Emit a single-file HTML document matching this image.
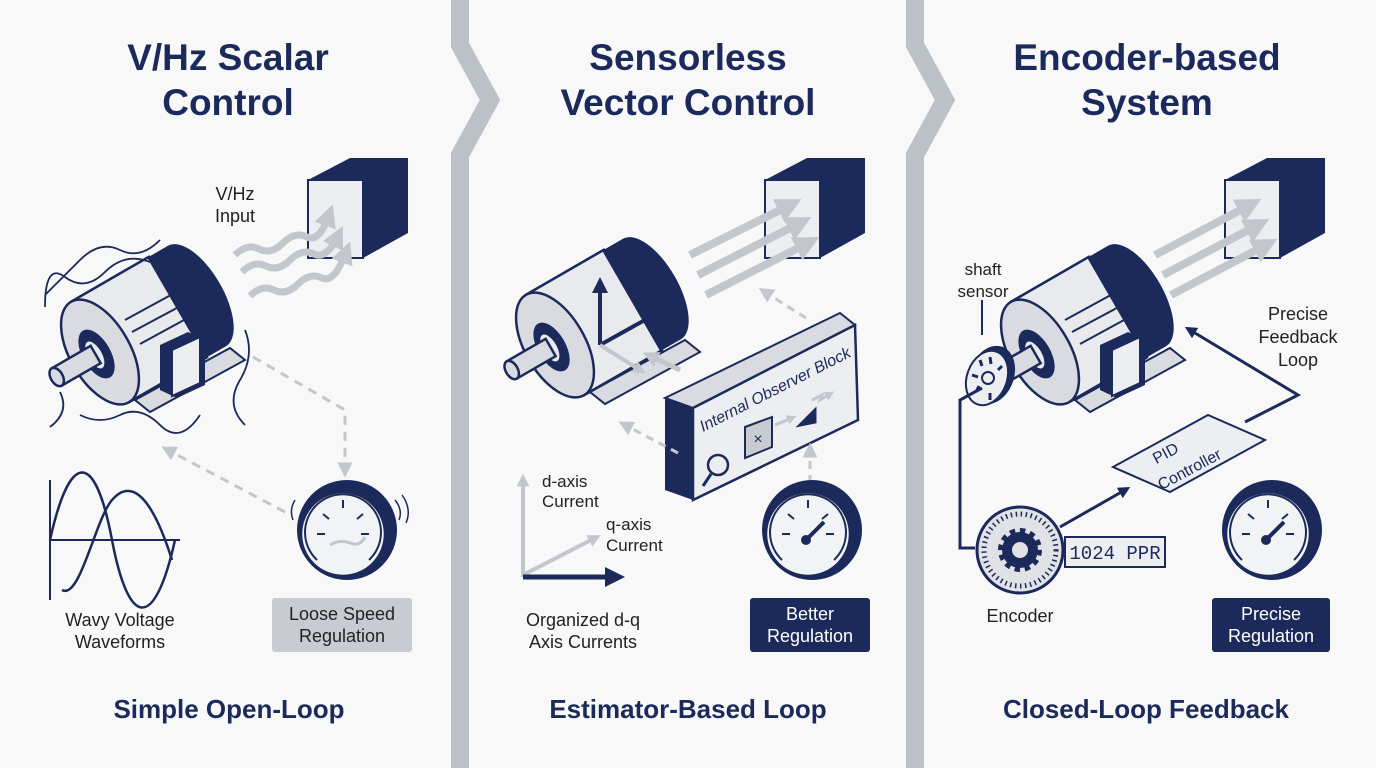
<!DOCTYPE html>
<html><head><meta charset="utf-8"><style>
html,body{margin:0;padding:0;background:#f8f8f9;}
svg{display:block;font-family:"Liberation Sans",sans-serif;}
</style></head><body>
<svg width="1376" height="768" viewBox="0 0 1376 768" xmlns="http://www.w3.org/2000/svg">
<defs>
  <marker id="ag" viewBox="0 0 10 10" refX="5" refY="5" markerWidth="3.2" markerHeight="3.2" orient="auto"><path d="M0,0L10,5L0,10z" fill="#c3c6cc"/></marker>
  <marker id="agd" viewBox="0 0 10 10" refX="5" refY="5" markerWidth="5" markerHeight="5" orient="auto"><path d="M0,0L10,5L0,10z" fill="#c3c6cc"/></marker>
  <marker id="an" viewBox="0 0 10 10" refX="5" refY="5" markerWidth="4" markerHeight="4" orient="auto"><path d="M0,0L10,5L0,10z" fill="#1b2a5a"/></marker>
  <g id="motor">
    <ellipse cx="112" cy="0" rx="26" ry="58" fill="#1b2a5a"/>
    <rect x="90" y="-58" width="22" height="116" fill="#1b2a5a"/>
    <rect x="0" y="-58" width="90" height="116" fill="#e9eaee" stroke="#1b2a5a" stroke-width="2.5"/>
    <ellipse cx="90" cy="0" rx="26" ry="58" fill="#1b2a5a"/>
    <rect x="0" y="-58" width="88" height="116" fill="#e9eaee"/>
    <line x1="0" y1="-58" x2="90" y2="-58" stroke="#1b2a5a" stroke-width="2.5"/>
    <line x1="0" y1="58" x2="90" y2="58" stroke="#1b2a5a" stroke-width="2.5"/>
    <ellipse cx="0" cy="0" rx="30" ry="58" fill="#d9dbe0" stroke="#1b2a5a" stroke-width="2.5"/>
    <ellipse cx="-4" cy="0" rx="14" ry="27" fill="#1b2a5a"/>
    <ellipse cx="-6" cy="0" rx="8" ry="16" fill="#e9eaee" stroke="#1b2a5a" stroke-width="2"/>
    <rect x="-50" y="-10" width="45" height="20" fill="#d9dbe0" stroke="#1b2a5a" stroke-width="2.5"/>
    <ellipse cx="-50" cy="0" rx="6" ry="10" fill="#d9dbe0" stroke="#1b2a5a" stroke-width="2.5"/>
  </g>
  <g id="cube">
    <polygon points="0,22 42,0 100,0 100,75 55,100 0,100" fill="#1b2a5a"/>
    <polygon points="0,22 55,22 55,100 0,100" fill="#eceef1" stroke="#1b2a5a" stroke-width="2"/>
  </g>
  <g id="gauge">
    <circle cx="0" cy="0" r="50" fill="#1b2a5a"/>
    <circle cx="-4" cy="4" r="42" fill="#f2f3f5" stroke="#1b2a5a" stroke-width="2.5"/>
    <path d="M-30,30 A38,38 0 1 1 22,30" fill="none" stroke="#1b2a5a" stroke-width="2"/>
    <g stroke="#1b2a5a" stroke-width="2">
      <line x1="-4" y1="-30" x2="-4" y2="-22"/><line x1="-30" y1="4" x2="-22" y2="4"/>
      <line x1="22" y1="4" x2="14" y2="4"/><line x1="-24" y1="-16" x2="-18" y2="-11"/><line x1="16" y1="-16" x2="10" y2="-11"/>
    </g>
  </g>
</defs>

<polyline points="460,0 460,45 490,100 460,155 460,768" fill="none" stroke="#bcc0c7" stroke-width="18"/>
<polyline points="915,0 915,45 945,100 915,155 915,768" fill="none" stroke="#bcc0c7" stroke-width="18"/>

<g fill="#1b2a5a" font-weight="bold" font-size="37" text-anchor="middle">
  <text x="228" y="70">V/Hz Scalar</text><text x="228" y="115">Control</text>
  <text x="688" y="70">Sensorless</text><text x="688" y="115">Vector Control</text>
  <text x="1147" y="70">Encoder-based</text><text x="1147" y="115">System</text>
</g>
<g fill="#1b2a5a" font-weight="bold" font-size="26" text-anchor="middle">
  <text x="229" y="718">Simple Open-Loop</text>
  <text x="688" y="718">Estimator-Based Loop</text>
  <text x="1146" y="718">Closed-Loop Feedback</text>
</g>

<!-- PANEL 1 -->
<use href="#cube" x="308" y="158"/>
<text x="235" y="200" font-size="18" fill="#222" text-anchor="middle">V/Hz</text>
<text x="235" y="222" font-size="18" fill="#222" text-anchor="middle">Input</text>
<g fill="none" stroke="#c3c6cc" stroke-width="7" marker-end="url(#ag)">
  <path d="M235,255 q12,-12 24,-6 t24,-6 t24,-6 t22,-22"/>
  <path d="M242,272 q12,-12 24,-6 t24,-6 t24,-6 t24,-18"/>
  <path d="M250,296 q12,-12 24,-6 t24,-6 t24,-6 t24,-26"/>
</g>
<polygon points="135,400 230,348 245,360 150,412" fill="#d9dbe0" stroke="#1b2a5a" stroke-width="2"/>
<g transform="translate(100,352) rotate(-30)"><use href="#motor"/></g>
<polygon points="160,345 188,332 205,340 205,385 177,398 160,390" fill="#1b2a5a"/>
<polygon points="172,350 200,337 200,383 172,396" fill="#eceef1" stroke="#1b2a5a" stroke-width="2"/>
<g fill="none" stroke="#1b2a5a" stroke-width="1.8">
  <path d="M160,240 q-20,20 -40,10 t-40,10 t-35,35"/>
  <path d="M150,262 q-25,-10 -45,10 t-40,5 t-20,30"/>
  <path d="M80,415 q20,10 40,0 t40,10 t40,-10"/>
  <path d="M60,392 q10,20 -10,35"/>
  <path d="M245,330 q10,25 -5,50 t5,45"/>
</g>
<g stroke="#1b2a5a" stroke-width="2" fill="none">
  <line x1="125" y1="320" x2="180" y2="290"/><line x1="132" y1="332" x2="188" y2="302"/><line x1="140" y1="344" x2="195" y2="314"/>
</g>
<path d="M253,357 L345,410 L345,470" fill="none" stroke="#c3c6cc" stroke-width="3" stroke-dasharray="9,7" marker-end="url(#agd)"/>
<path d="M285,512 L168,450" fill="none" stroke="#c3c6cc" stroke-width="3" stroke-dasharray="9,7" marker-end="url(#agd)"/>
<line x1="50" y1="480" x2="50" y2="600" stroke="#1b2a5a" stroke-width="2"/>
<line x1="50" y1="540" x2="180" y2="540" stroke="#1b2a5a" stroke-width="2"/>
<path d="M50,540 C70,450 95,450 112,540 S155,630 175,540" fill="none" stroke="#1b2a5a" stroke-width="2.5"/>
<path d="M62,590 C80,600 95,520 112,500 S150,490 172,560" fill="none" stroke="#1b2a5a" stroke-width="2.5"/>
<text x="120" y="626" font-size="18" fill="#222" text-anchor="middle">Wavy Voltage</text>
<text x="120" y="648" font-size="18" fill="#222" text-anchor="middle">Waveforms</text>
<use href="#gauge" x="347" y="530"/>
<path d="M330,545 q10,-6 20,-2 t15,-6" stroke="#c3c6cc" stroke-width="3" fill="none"/>
<g stroke="#1b2a5a" stroke-width="1.5" fill="none"><path d="M395,500 q8,10 4,20"/><path d="M402,495 q10,14 4,28"/><path d="M295,500 q-6,10 -2,20"/></g>
<rect x="272" y="598" width="140" height="54" rx="3" fill="#c8cbd1"/>
<text x="342" y="620" font-size="18" fill="#222" text-anchor="middle">Loose Speed</text>
<text x="342" y="642" font-size="18" fill="#222" text-anchor="middle">Regulation</text>

<!-- PANEL 2 -->
<use href="#cube" x="765" y="158"/>
<g stroke="#c3c6cc" stroke-width="8" marker-end="url(#ag)">
  <line x1="690" y1="255" x2="790" y2="205"/><line x1="698" y1="275" x2="800" y2="223"/><line x1="706" y1="295" x2="808" y2="243"/>
</g>
<polygon points="590,392 685,340 700,352 605,404" fill="#d9dbe0" stroke="#1b2a5a" stroke-width="2"/>
<g transform="translate(555,345) rotate(-30)"><use href="#motor"/></g>
<path d="M600,345 L600,285" stroke="#1b2a5a" stroke-width="4" marker-end="url(#an)"/>
<path d="M600,345 L652,316" stroke="#1b2a5a" stroke-width="4" marker-end="url(#an)"/>
<path d="M600,345 L640,370" stroke="#c3c6cc" stroke-width="4" marker-end="url(#ag)"/>
<polygon points="665,398 840,313 855,325 693,408" fill="#d9dbe0" stroke="#1b2a5a" stroke-width="2"/>
<polygon points="665,398 693,408 693,500 665,490" fill="#1b2a5a"/>
<polygon points="693,408 855,325 858,420 693,500" fill="#eceef1" stroke="#1b2a5a" stroke-width="2.5"/>
<text font-size="16" font-style="italic" fill="#1b2a5a" transform="translate(703,432) rotate(-27)">Internal Observer Block</text>
<circle cx="718" cy="465" r="10" fill="none" stroke="#1b2a5a" stroke-width="2.5"/>
<line x1="711" y1="474" x2="703" y2="486" stroke="#1b2a5a" stroke-width="3"/>
<polygon points="745,427 772,417 772,447 745,458" fill="#c8cbd1" stroke="#1b2a5a" stroke-width="2"/>
<text x="758" y="444" font-size="16" fill="#1b2a5a" text-anchor="middle">×</text>
<polygon points="800,425 815,410 815,422" fill="#1b2a5a" stroke="#1b2a5a" stroke-width="3"/>
<path d="M775,425 L792,418" stroke="#c3c6cc" stroke-width="3" marker-end="url(#ag)"/>
<path d="M812,400 l10,-5 l-2,5 l10,-6" stroke="#c3c6cc" stroke-width="3" fill="none" marker-end="url(#ag)"/>
<path d="M680,370 L650,356" stroke="#c3c6cc" stroke-width="5" marker-end="url(#ag)"/>
<path d="M806,318 L765,292" stroke="#c3c6cc" stroke-width="3" stroke-dasharray="8,6" marker-end="url(#agd)"/>
<path d="M678,453 L625,425" stroke="#c3c6cc" stroke-width="3" stroke-dasharray="8,6" marker-end="url(#agd)"/>
<path d="M810,483 L810,450" stroke="#c3c6cc" stroke-width="3" stroke-dasharray="8,6" marker-end="url(#agd)"/>
<path d="M523,577 L523,480" stroke="#c3c6cc" stroke-width="4" marker-end="url(#ag)"/>
<path d="M523,575 L595,538" stroke="#c3c6cc" stroke-width="4" marker-end="url(#ag)"/>
<path d="M523,577 L615,577" stroke="#1b2a5a" stroke-width="5" marker-end="url(#an)"/>
<g font-size="17" fill="#222"><text x="542" y="487">d-axis</text><text x="542" y="507">Current</text>
<text x="606" y="530">q-axis</text><text x="606" y="551">Current</text></g>
<text x="583" y="626" font-size="18" fill="#222" text-anchor="middle">Organized d-q</text>
<text x="583" y="648" font-size="18" fill="#222" text-anchor="middle">Axis Currents</text>
<use href="#gauge" x="812" y="530"/>
<line x1="806" y1="540" x2="824" y2="522" stroke="#1b2a5a" stroke-width="4"/>
<circle cx="806" cy="540" r="5" fill="#1b2a5a"/>
<rect x="750" y="598" width="120" height="54" rx="3" fill="#1b2a5a"/>
<text x="810" y="620" font-size="18" fill="#fff" text-anchor="middle">Better</text>
<text x="810" y="642" font-size="18" fill="#fff" text-anchor="middle">Regulation</text>

<!-- PANEL 3 -->
<use href="#cube" x="1225" y="158"/>
<g stroke="#c3c6cc" stroke-width="8" marker-end="url(#ag)">
  <line x1="1155" y1="255" x2="1250" y2="205"/><line x1="1163" y1="275" x2="1258" y2="225"/><line x1="1171" y1="295" x2="1266" y2="245"/>
</g>
<polygon points="1075,400 1170,348 1185,360 1090,412" fill="#d9dbe0" stroke="#1b2a5a" stroke-width="2"/>
<g transform="translate(1040,352) rotate(-30)"><use href="#motor"/></g>
<polygon points="1100,345 1128,332 1145,340 1145,385 1117,398 1100,390" fill="#1b2a5a"/>
<polygon points="1112,350 1140,337 1140,383 1112,396" fill="#eceef1" stroke="#1b2a5a" stroke-width="2"/>
<g stroke="#1b2a5a" stroke-width="2" fill="none">
  <line x1="1065" y1="320" x2="1120" y2="290"/><line x1="1072" y1="332" x2="1128" y2="302"/><line x1="1080" y1="344" x2="1135" y2="314"/>
</g>
<ellipse cx="992" cy="375" rx="22" ry="30" transform="rotate(20 992 375)" fill="#1b2a5a"/>
<ellipse cx="987" cy="378" rx="20" ry="28" transform="rotate(20 987 378)" fill="#eceef1" stroke="#1b2a5a" stroke-width="2"/>
<circle cx="988" cy="378" r="6" fill="none" stroke="#1b2a5a" stroke-width="2"/>
<g stroke="#1b2a5a" stroke-width="3"><line x1="980" y1="360" x2="982" y2="366"/><line x1="990" y1="357" x2="991" y2="364"/><line x1="998" y1="370" x2="1002" y2="366"/><line x1="976" y1="392" x2="979" y2="386"/><line x1="990" y1="400" x2="990" y2="393"/><line x1="972" y1="375" x2="978" y2="377"/></g>
<line x1="982" y1="300" x2="982" y2="335" stroke="#1b2a5a" stroke-width="2"/>
<text x="983" y="275" font-size="17" fill="#222" text-anchor="middle">shaft</text>
<text x="983" y="297" font-size="17" fill="#222" text-anchor="middle">sensor</text>
<polyline points="982,388 960,400 960,548 975,548" fill="none" stroke="#1b2a5a" stroke-width="3"/>
<polygon points="1113,467 1208,415 1265,440 1170,492" fill="#eceef1" stroke="#1b2a5a" stroke-width="2"/>
<text font-size="16" fill="#1b2a5a" transform="translate(1168,458) rotate(-28)" text-anchor="middle">PID</text>
<text font-size="16" fill="#1b2a5a" transform="translate(1192,474) rotate(-28)" text-anchor="middle">Controller</text>
<polyline points="1245,422 1298,395 1190,330" fill="none" stroke="#1b2a5a" stroke-width="3" marker-end="url(#an)"/>
<text x="1298" y="320" font-size="18" fill="#222" text-anchor="middle">Precise</text>
<text x="1298" y="343" font-size="18" fill="#222" text-anchor="middle">Feedback</text>
<text x="1298" y="366" font-size="18" fill="#222" text-anchor="middle">Loop</text>
<line x1="1060" y1="527" x2="1125" y2="490" stroke="#1b2a5a" stroke-width="3" marker-end="url(#an)"/>
<rect x="1065" y="537" width="100" height="30" fill="#eceef1" stroke="#1b2a5a" stroke-width="2"/>
<text x="1115" y="559" font-size="19" fill="#1b2a5a" text-anchor="middle" font-family="Liberation Mono,monospace">1024 PPR</text>
<circle cx="1020" cy="550" r="43" fill="#e0e2e6" stroke="#1b2a5a" stroke-width="3"/>
<circle cx="1020" cy="550" r="36" fill="none" stroke="#1b2a5a" stroke-width="5" stroke-dasharray="1.5,3.5"/>
<circle cx="1020" cy="550" r="18" fill="#1b2a5a" stroke="#1b2a5a" stroke-width="8" stroke-dasharray="5,4.4"/>
<circle cx="1020" cy="550" r="8" fill="#e0e2e6"/>
<text x="1020" y="622" font-size="18" fill="#222" text-anchor="middle">Encoder</text>
<use href="#gauge" x="1272" y="530"/>
<line x1="1266" y1="540" x2="1284" y2="522" stroke="#1b2a5a" stroke-width="4"/>
<circle cx="1266" cy="540" r="5" fill="#1b2a5a"/>
<rect x="1212" y="598" width="118" height="54" rx="3" fill="#1b2a5a"/>
<text x="1271" y="620" font-size="18" fill="#fff" text-anchor="middle">Precise</text>
<text x="1271" y="642" font-size="18" fill="#fff" text-anchor="middle">Regulation</text>
</svg>
</body></html>
